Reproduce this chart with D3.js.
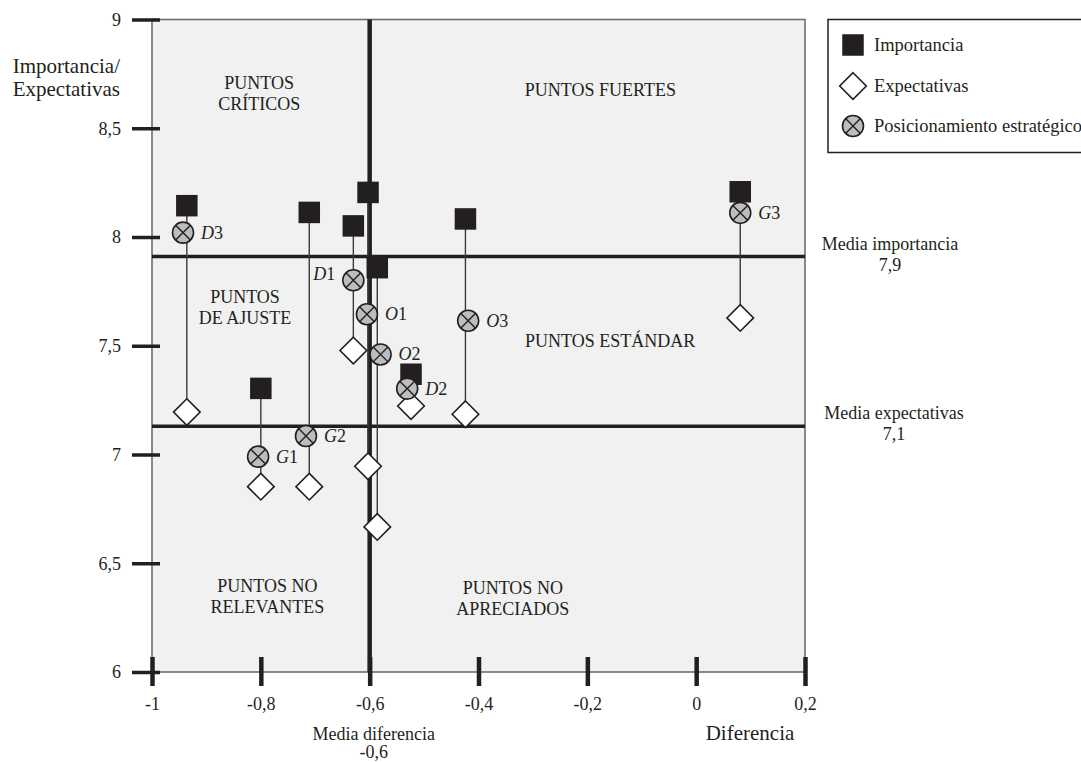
<!DOCTYPE html>
<html><head><meta charset="utf-8">
<script src="https://cdn.jsdelivr.net/npm/d3@7"></script>
<style>
body{margin:0;background:#fff}
text{font-family:"Liberation Serif","Times New Roman",serif;fill:#231f20}
</style>
</head><body>
<svg id="c" width="1081" height="762"></svg>
<script>
// ---- data ----
const codes = ["D3","G1","G2","D1","O1","O2","D2","O3","G3"];
const diffLine = [-0.936,-0.800,-0.711,-0.630,-0.603,-0.586,-0.524,-0.424,0.081];
const diffPos  = [-0.943,-0.805,-0.717,-0.630,-0.605,-0.580,-0.531,-0.419,0.081];
const importancia     = [8.144,7.304,8.113,8.051,8.205,7.859,7.369,8.083,8.208];
const expectativas    = [7.195,6.852,6.852,7.478,6.946,6.667,7.223,7.185,7.628];
const posicionamiento = [8.020,6.990,7.085,7.801,7.645,7.460,7.303,7.615,8.111];
const labelSide = ["right","right","right","left","right","right","right","right","right"];
const mediaDiferencia = -0.6, mediaImportancia = 7.91, mediaExpectativas = 7.13;
const mediaTexts = {dif:["Media diferencia","-0,6"], imp:["Media importancia","7,9"], exp:["Media expectativas","7,1"]};
const xTicks = [-1,-0.8,-0.6,-0.4,-0.2,0,0.2];
const yTicks = [6,6.5,7,7.5,8,8.5,9];
const quadrantLabels = [
  {lines:["PUNTOS","CRÍTICOS"], x:-0.803, y:8.682},
  {lines:["PUNTOS FUERTES"], x:-0.176, y:8.648},
  {lines:["PUNTOS","DE AJUSTE"], x:-0.829, y:7.695},
  {lines:["PUNTOS NO","RELEVANTES"], x:-0.788, y:6.37},
  {lines:["PUNTOS ESTÁNDAR"], x:-0.158, y:7.494},
  {lines:["PUNTOS NO","APRECIADOS"], x:-0.337, y:6.36}
];
const legendItems = ["Importancia","Expectativas","Posicionamiento estratégico"];

// ---- chart ----
const svg = d3.select("#c");
const dark = "#231f20";
const x = d3.scaleLinear().domain([-1,0.2]).range([152,805]);
const y = d3.scaleLinear().domain([6,9]).range([672,19.5]);
const loc = d3.formatLocale({decimal:",",thousands:".",grouping:[3],currency:["","€"],minus:"-"});
const fmt = loc.format("~g");

svg.append("rect").attr("x",x(-1)).attr("y",y(9)).attr("width",x(0.2)-x(-1)).attr("height",y(6)-y(9))
  .attr("fill","#f1f1f1").attr("stroke","#6d6e71").attr("stroke-width",1.6);

// mean lines
svg.append("line").attr("x1",x(-1)).attr("x2",x(0.2)).attr("y1",y(mediaImportancia)).attr("y2",y(mediaImportancia))
  .attr("stroke",dark).attr("stroke-width",3.5);
svg.append("line").attr("x1",x(-1)).attr("x2",x(0.2)).attr("y1",y(mediaExpectativas)).attr("y2",y(mediaExpectativas))
  .attr("stroke",dark).attr("stroke-width",3.5);
svg.append("line").attr("x1",x(mediaDiferencia)).attr("x2",x(mediaDiferencia)).attr("y1",y(9)).attr("y2",y(6))
  .attr("stroke",dark).attr("stroke-width",4.5);

// axes
const yAxis = svg.append("g").attr("transform",`translate(${x(-1)},0)`)
  .call(d3.axisLeft(y).tickValues(yTicks).tickFormat(fmt).tickSize(20).tickPadding(11));
yAxis.select(".domain").remove();
yAxis.selectAll(".tick line").attr("x1",8).attr("stroke",dark).attr("stroke-width",3.5);
yAxis.selectAll(".tick text").attr("font-size",18).attr("dy","0.33em").style("font-family","'Liberation Serif',serif").attr("fill",dark);

const xAxis = svg.append("g").attr("transform",`translate(0,${y(6)})`)
  .call(d3.axisBottom(x).tickValues(xTicks).tickFormat(fmt).tickSize(14).tickPadding(11));
xAxis.select(".domain").remove();
xAxis.selectAll(".tick line").attr("y1",-15).attr("stroke",dark).attr("stroke-width",4.5);
xAxis.selectAll(".tick text").attr("font-size",18).style("font-family","'Liberation Serif',serif").attr("fill",dark);

// quadrant labels
quadrantLabels.forEach(q=>{
  const t = svg.append("text").attr("text-anchor","middle").attr("font-size",18)
    .attr("x",x(q.x)).attr("y",y(q.y));
  q.lines.forEach((l,i)=>t.append("tspan").attr("x",x(q.x)).attr("dy",i?21:0).text(l));
});

// axis titles & mean labels
const ytitle = svg.append("text").attr("text-anchor","end").attr("font-size",21).attr("x",120).attr("y",73);
ytitle.append("tspan").attr("x",120).text("Importancia/");
ytitle.append("tspan").attr("x",120).attr("dy",23).text("Expectativas");
svg.append("text").attr("text-anchor","middle").attr("font-size",21).attr("x",750).attr("y",740).text("Diferencia");

function twoLine(txt, cx, by, gap, fs){
  const t = svg.append("text").attr("text-anchor","middle").attr("font-size",fs).attr("x",cx).attr("y",by);
  t.append("tspan").attr("x",cx).text(txt[0]);
  t.append("tspan").attr("x",cx).attr("dy",gap).text(txt[1]);
}
twoLine(mediaTexts.dif, x(mediaDiferencia)+4, 740, 18, 18);
twoLine(mediaTexts.imp, 890, 250, 21, 18);
twoLine(mediaTexts.exp, 894, 419, 21, 18);

// markers
const idx = d3.range(codes.length);
svg.append("g").selectAll("line").data(idx).join("line")
  .attr("x1",i=>x(diffLine[i])).attr("x2",i=>x(diffLine[i]))
  .attr("y1",i=>y(importancia[i])).attr("y2",i=>y(expectativas[i]))
  .attr("stroke","#3a3a3a").attr("stroke-width",1.4);

const sq = 21.5, dh = 13.3, r = 10.5;
function square(g){ g.append("rect").attr("x",-sq/2).attr("y",-sq/2).attr("width",sq).attr("height",sq).attr("fill",dark); }
function diamond(g){ g.append("path").attr("d",`M0,${-dh}L${dh},0L0,${dh}L${-dh},0Z`).attr("fill","#fff").attr("stroke",dark).attr("stroke-width",1.6); }
function cross(g){
  g.append("circle").attr("r",r).attr("fill","#bcbdbf").attr("stroke",dark).attr("stroke-width",1.6);
  const k = r*0.707;
  g.append("path").attr("d",`M${-k},${-k}L${k},${k}M${k},${-k}L${-k},${k}`).attr("stroke",dark).attr("stroke-width",1.4);
}

svg.append("g").selectAll("g").data(idx).join("g")
  .attr("transform",i=>`translate(${x(diffLine[i])},${y(importancia[i])})`).each(function(){square(d3.select(this));});
svg.append("g").selectAll("g").data(idx).join("g")
  .attr("transform",i=>`translate(${x(diffLine[i])},${y(expectativas[i])})`).each(function(){diamond(d3.select(this));});
svg.append("g").selectAll("g").data(idx).join("g")
  .attr("transform",i=>`translate(${x(diffPos[i])},${y(posicionamiento[i])})`).each(function(){cross(d3.select(this));});

// point labels (italic letter + upright digit)
svg.append("g").selectAll("text").data(idx).join("text")
  .attr("font-size",18)
  .attr("text-anchor",i=>labelSide[i]==="left"?"end":"start")
  .attr("x",i=>x(diffPos[i]) + (labelSide[i]==="left"?-18:18))
  .attr("y",i=>y(posicionamiento[i]) + (labelSide[i]==="left"?0:6))
  .each(function(i){
    const t = d3.select(this);
    t.append("tspan").attr("font-style","italic").text(codes[i][0]);
    t.append("tspan").text(codes[i].slice(1));
  });

// legend
const lg = svg.append("g");
lg.append("rect").attr("x",828).attr("y",19.5).attr("width",300).attr("height",133)
  .attr("fill","#fff").attr("stroke",dark).attr("stroke-width",1.5);
const markerFns = [square, diamond, cross];
const legY = [45, 86, 126];
legendItems.forEach((name,i)=>{
  const g = lg.append("g").attr("transform",`translate(853,${legY[i]})`);
  markerFns[i](g);
  lg.append("text").attr("x",874).attr("y",legY[i]+6).attr("font-size",18.5).text(name);
});
</script>
</body></html>
